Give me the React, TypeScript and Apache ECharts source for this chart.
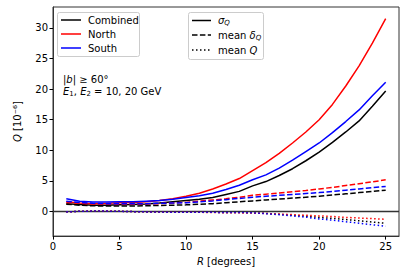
import React, { useEffect, useRef } from "react";
import * as echarts from "echarts";

const R = [1, 2, 3, 4, 5, 6, 7, 8, 9, 10, 11, 12, 13, 14, 15, 16, 17, 18, 19, 20, 21, 22, 23, 24, 25];

const sigmaCombined = [1.3, 1.15, 1.05, 1.05, 1.1, 1.15, 1.25, 1.4, 1.6, 1.8, 2.0, 2.3, 2.8, 3.3, 4.2, 4.9, 5.9, 7.0, 8.3, 9.7, 11.3, 13.0, 14.8, 17.2, 19.7];
const sigmaNorth = [1.6, 1.4, 1.3, 1.35, 1.45, 1.5, 1.6, 1.8, 2.1, 2.5, 3.0, 3.7, 4.5, 5.4, 6.7, 8.0, 9.5, 11.2, 13.0, 15.0, 17.5, 20.5, 23.8, 27.5, 31.5];
const sigmaSouth = [2.1, 1.7, 1.55, 1.55, 1.6, 1.6, 1.7, 1.8, 2.0, 2.3, 2.6, 3.0, 3.6, 4.3, 5.2, 6.0, 7.1, 8.4, 9.8, 11.2, 12.9, 14.7, 16.6, 18.9, 21.1];

const deltaCombined = [1.2, 1.05, 0.95, 0.9, 0.9, 0.9, 0.95, 1.0, 1.05, 1.1, 1.2, 1.3, 1.45, 1.6, 1.75, 1.9, 2.05, 2.2, 2.35, 2.5, 2.7, 2.9, 3.1, 3.3, 3.5];
const deltaNorth = [1.5, 1.35, 1.25, 1.2, 1.2, 1.2, 1.25, 1.3, 1.4, 1.5, 1.7, 1.9, 2.1, 2.35, 2.65, 2.85, 3.05, 3.25, 3.45, 3.7, 3.95, 4.25, 4.55, 4.85, 5.2];
const deltaSouth = [1.7, 1.5, 1.35, 1.3, 1.3, 1.3, 1.3, 1.35, 1.4, 1.45, 1.6, 1.75, 1.95, 2.15, 2.35, 2.5, 2.65, 2.8, 2.95, 3.1, 3.3, 3.5, 3.7, 3.9, 4.1];

const meanCombined = [-0.05, 0.05, 0.1, 0.08, 0.05, 0.0, -0.05, -0.08, -0.1, -0.1, -0.12, -0.12, -0.15, -0.15, -0.2, -0.3, -0.45, -0.6, -0.75, -0.95, -1.1, -1.3, -1.5, -1.7, -1.9];
const meanNorth = [-0.05, 0.05, 0.1, 0.1, 0.05, 0.0, -0.05, -0.08, -0.1, -0.1, -0.12, -0.15, -0.18, -0.2, -0.25, -0.3, -0.4, -0.5, -0.6, -0.7, -0.8, -0.95, -1.05, -1.15, -1.25];
const meanSouth = [-0.05, 0.05, 0.08, 0.08, 0.05, 0.0, -0.05, -0.08, -0.1, -0.1, -0.12, -0.12, -0.15, -0.15, -0.2, -0.35, -0.5, -0.7, -0.9, -1.2, -1.4, -1.65, -1.9, -2.15, -2.4];

const xTicks = [0, 5, 10, 15, 20, 25];
const yTicks = [0, 5, 10, 15, 20, 25, 30];

const BLACK = "#000000";
const RED = "#ff0000";
const BLUE = "#0000ff";
const FONT = "DejaVu Sans";

const mk = (data: number[], color: string, type: any) => ({
  type: "line",
  data: R.map((r, i) => [r, data[i]]),
  showSymbol: false,
  symbol: "none",
  lineStyle: { color, width: 1.5, type, cap: "butt" },
  z: 3,
});

export default function App() {
  const ref = useRef<HTMLDivElement>(null);
  useEffect(() => {
    document.body.style.margin = "0";
    const chart = echarts.init(ref.current!, null, { renderer: "svg" });
    const dashed = [5.5, 2.4];
    const dotted = [1.5, 2.5];
    const legendText = (x: number, y: number, text: string, rich?: any) => ({
      type: "text",
      x,
      y,
      style: { text, fill: "#000", font: `10px "${FONT}"`, fontFamily: FONT, fontSize: 10, verticalAlign: "middle", rich },
      z: 101,
    });
    const legendLine = (x1: number, x2: number, y: number, color: string, lineDash?: number[]) => ({
      type: "line",
      shape: { x1, y1: y, x2, y2: y },
      style: { stroke: color, lineWidth: 1.5, lineDash },
      z: 101,
    });
    const richSub = {
      i: { fontStyle: "italic", fontSize: 10, fontFamily: FONT },
      sub: { fontStyle: "italic", fontSize: 7, fontFamily: FONT, padding: [5, 0, 0, 0] },
      s: { fontSize: 7, fontFamily: FONT, padding: [5, 0, 0, 0] },
      n: { fontSize: 10, fontFamily: FONT },
    };
    chart.setOption({
      animation: false,
      grid: { left: 53, right: 8, top: 7, bottom: 30, show: true, borderColor: "#333", borderWidth: 1, backgroundColor: "transparent" },
      xAxis: {
        type: "value",
        min: 0,
        max: 26,
        name: "{i|R} [degrees]",
        nameLocation: "middle",
        nameGap: 18,
        nameTextStyle: { color: "#000", fontSize: 10, fontFamily: FONT, rich: { i: { fontStyle: "italic", fontSize: 10, fontFamily: FONT } } },
        axisLine: { show: true, onZero: false, lineStyle: { color: "#333", width: 1 } },
        axisTick: { show: true, customValues: xTicks, length: 3.5, lineStyle: { color: "#000" } },
        axisLabel: { customValues: xTicks, color: "#000", fontSize: 10, fontFamily: FONT, margin: 5 },
        splitLine: { show: false },
      },
      yAxis: {
        type: "value",
        min: -4,
        max: 33.4,
        name: "{i|Q} [10⁻⁶]",
        nameLocation: "middle",
        nameGap: 31,
        nameRotate: 90,
        nameTextStyle: { color: "#000", fontSize: 10, fontFamily: FONT, rich: { i: { fontStyle: "italic", fontSize: 10, fontFamily: FONT } } },
        axisLine: { show: true, onZero: false, lineStyle: { color: "#333", width: 1 } },
        axisTick: { show: true, customValues: yTicks, length: 3.5, lineStyle: { color: "#000" } },
        axisLabel: { customValues: yTicks, color: "#000", fontSize: 10, fontFamily: FONT, margin: 5 },
        splitLine: { show: false },
      },
      series: [
        {
          ...mk(sigmaCombined, BLACK, "solid"),
          markLine: {
            silent: true,
            symbol: "none",
            label: { show: false },
            lineStyle: { color: "#333", width: 1.3, type: "solid" },
            data: [{ yAxis: 0 }],
            z: 2,
          },
        },
        mk(sigmaNorth, RED, "solid"),
        mk(sigmaSouth, BLUE, "solid"),
        mk(deltaCombined, BLACK, dashed),
        mk(deltaNorth, RED, dashed),
        mk(deltaSouth, BLUE, dashed),
        mk(meanCombined, BLACK, dotted),
        mk(meanNorth, RED, dotted),
        mk(meanSouth, BLUE, dotted),
      ],
      graphic: [
        {
          type: "rect",
          shape: { x: 57.5, y: 12.5, width: 82, height: 44, r: 2 },
          style: { fill: "rgba(255,255,255,0.8)", stroke: "#cccccc", lineWidth: 1 },
          z: 100,
        },
        legendLine(61, 81, 20, BLACK),
        legendLine(61, 81, 34, RED),
        legendLine(61, 81, 48, BLUE),
        legendText(88, 20, "Combined"),
        legendText(88, 34, "North"),
        legendText(88, 48, "South"),
        {
          type: "rect",
          shape: { x: 188.5, y: 12.5, width: 75, height: 47, r: 2 },
          style: { fill: "rgba(255,255,255,0.8)", stroke: "#cccccc", lineWidth: 1 },
          z: 100,
        },
        legendLine(192, 211, 20.5, BLACK),
        legendLine(192, 211, 35, BLACK, dashed),
        legendLine(192, 211, 50, BLACK, dotted),
        legendText(218, 20.5, "{i|σ}{sub|Q}", richSub),
        legendText(218, 35, "{n|mean }{i|δ}{sub|Q}", richSub),
        legendText(218, 50, "{n|mean }{i|Q}", richSub),
        legendText(63, 79, "{n||}{i|b}{n|| ≥ 60°}", richSub),
        legendText(63, 91, "{i|E}{s|1}{n|, }{i|E}{s|2}{n| = 10, 20 GeV}", richSub),
      ],
    });
    return () => chart.dispose();
  }, []);
  return <div ref={ref} style={{ width: 407, height: 271 }} />;
}
